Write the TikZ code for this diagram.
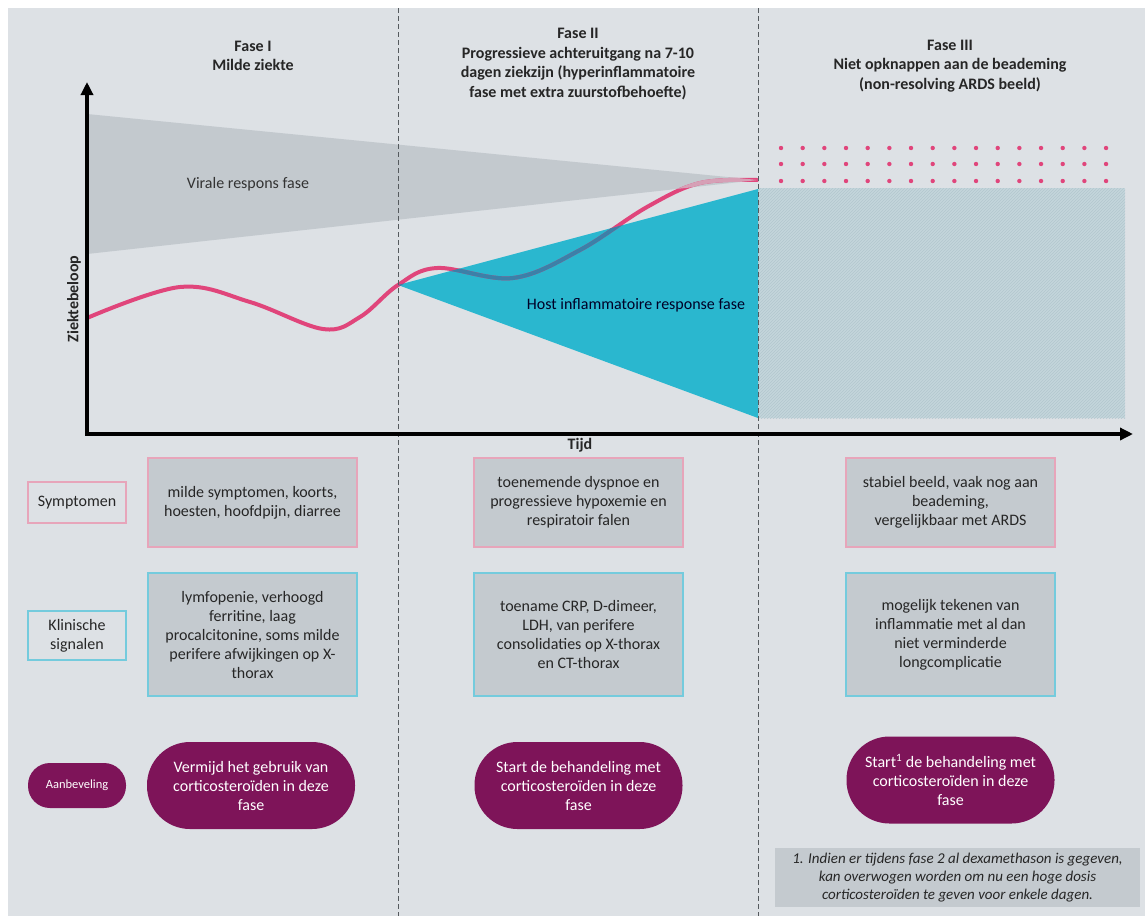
\documentclass[tikz,border=0pt]{standalone}
\usepackage{fontspec}
\setmainfont{Carlito}
\usetikzlibrary{patterns,arrows.meta}
\definecolor{bg}{HTML}{DDE1E5}
\definecolor{wedgegray}{HTML}{C3C9CE}
\definecolor{hostteal}{HTML}{2AB7CF}
\definecolor{curvepink}{HTML}{E0457B}
\definecolor{curveblue}{HTML}{3C80A8}
\definecolor{curvefade}{HTML}{D6A0B6}
\definecolor{purp}{HTML}{7E1459}
\definecolor{boxgray}{HTML}{C4CACF}
\definecolor{pinkbord}{HTML}{E7A5BA}
\definecolor{tealbord}{HTML}{74CBDD}
\definecolor{hatchfill}{HTML}{C4D6DC}
\definecolor{hatchline}{HTML}{B2C7CE}
\definecolor{txt}{HTML}{262626}
\definecolor{dashc}{HTML}{555A5E}
\tikzset{
  hdr/.style={font=\bfseries\fontsize{16}{19.5}\selectfont, align=center, text=txt},
  body/.style={font=\fontsize{16}{19}\selectfont, align=center, text=txt, inner sep=0pt},
  symbox/.style={body, draw=pinkbord, fill=boxgray, line width=1.2pt, minimum width=209pt, minimum height=89pt},
  klinbox/.style={body, draw=tealbord, fill=boxgray, line width=1.2pt, minimum width=209pt, minimum height=123pt},
  pill/.style={body, fill=purp, text=white, minimum width=208pt, minimum height=87pt, rounded corners=43pt},
  symlab/.style={body, draw=pinkbord, line width=1.2pt, minimum width=98pt, minimum height=41pt},
  klinlab/.style={body, draw=tealbord, line width=1.2pt, minimum width=98pt, minimum height=49pt},
  aanlab/.style={body, font=\fontsize{12.5}{14}\selectfont, fill=purp, text=white, minimum width=98pt, minimum height=45pt, rounded corners=22pt},
  dashline/.style={draw=dashc, line width=0.9pt, dash pattern=on 5pt off 3pt},
  axis/.style={line width=3.5pt, -{Triangle[length=13pt,width=12pt]}},
  curve/.style={line width=4pt, line cap=round}
}
\begin{document}
\begin{tikzpicture}[x=1pt,y=-1pt]
\useasboundingbox (0,0) rectangle (1145,916);
\fill[bg] (8,8) rectangle (1145,916);

% Phase III hatched area
\fill[hatchfill] (758,188) rectangle (1125,418);
\fill[pattern=north east lines, pattern color=hatchline] (758,188) rectangle (1125,418);

% dots
\foreach \i in {0,...,15}{
  \foreach \r in {148,164,181}{
    \fill[curvepink] ({781+\i*21.67},\r) circle (2.2pt);
  }
}

% wedges
\fill[wedgegray] (87,114) -- (758,180) -- (87,254) -- cycle;
\fill[hostteal] (398,285) -- (758,189) -- (758,418) -- cycle;

% disease course curve
\draw[curve, curvepink] plot[smooth, tension=0.6] coordinates {(87,318) (180,287) (250,302) (323,329) (360,317) (398,285) (437,268) (513,278) (580,250) (647,207) (700,183) (757,180)};
\begin{scope}
  \clip (398,285) -- (758,189) -- (758,418) -- cycle;
  \draw[curve, curveblue] plot[smooth, tension=0.6] coordinates {(87,318) (180,287) (250,302) (323,329) (360,317) (398,285) (437,268) (513,278) (580,250) (647,207) (700,183) (757,180)};
\end{scope}
\begin{scope}
  \clip (87,114) -- (758,180) -- (87,254) -- cycle;
  \draw[curve, curvefade] plot[smooth, tension=0.6] coordinates {(87,318) (180,287) (250,302) (323,329) (360,317) (398,285) (437,268) (513,278) (580,250) (647,207) (700,183) (757,180)};
\end{scope}

% phase separators
\coordinate (s1t) at (398,8); \coordinate (s1b) at (398,916);
\coordinate (s2t) at (758,8); \coordinate (s2b) at (758,916);
\draw[dashline] (s1t) -- (s1b);
\draw[dashline] (s2t) -- (s2b);

% axes
\coordinate (origin) at (87,434);
\coordinate (ytip) at (87,82);
\coordinate (xtip) at (1133,434);
\draw[axis] ([yshift=-1.75pt]origin) -- (ytip);
\draw[axis] ([xshift=-1.75pt]origin) -- (xtip);
\node[font=\bfseries\fontsize{16}{18}\selectfont, text=txt, rotate=90] (ylab) at (74,299) {Ziektebeloop};
\node[font=\bfseries\fontsize{16}{18}\selectfont, text=txt] (xlab) at (580,445) {Tijd};

% headers
\node[hdr] (h1) at (253,56) {Fase I\\Milde ziekte};
\node[hdr] (h2) at (578,64) {Fase II\\Progressieve achteruitgang na 7-10\\dagen ziekzijn (hyperinflammatoire\\fase met extra zuurstofbehoefte)};
\node[hdr] (h3) at (950,66) {Fase III\\Niet opknappen aan de beademing\\(non-resolving ARDS beeld)};

% region labels
\node[font=\fontsize{16}{19}\selectfont, text=black!80] (viral) at (248,184) {Virale respons fase};
\node[font=\fontsize{16}{19}\selectfont, text=black!85!blue] (host) at (636,305) {Host inflammatoire response fase};

% row labels
\node[symlab] (lsym) at (77,502.5) {Symptomen};
\node[klinlab] (lklin) at (77,635.5) {Klinische\\signalen};
\node[aanlab] (laan) at (77,785.5) {Aanbeveling};

% symptom boxes
\node[symbox] (s1) at (252.5,502.5) {milde symptomen, koorts,\\hoesten, hoofdpijn, diarree};
\node[symbox] (s2) at (578.5,502.5) {toenemende dyspnoe en\\progressieve hypoxemie en\\respiratoir falen};
\node[symbox] (s3) at (950.5,502.5) {stabiel beeld, vaak nog aan\\beademing,\\vergelijkbaar met ARDS};

% clinical boxes
\node[klinbox] (k1) at (252.5,634.5) {lymfopenie, verhoogd\\ferritine, laag\\procalcitonine, soms milde\\perifere afwijkingen op X-\\thorax};
\node[klinbox] (k2) at (578.5,634.5) {toename CRP, D-dimeer,\\LDH, van perifere\\consolidaties op X-thorax\\en CT-thorax};
\node[klinbox] (k3) at (950.5,634.5) {mogelijk tekenen van\\inflammatie met al dan\\niet verminderde\\longcomplicatie};

% recommendations
\node[pill] (a1) at (251,785.5) {Vermijd het gebruik van\\corticosteroïden in deze\\fase};
\node[pill] (a2) at (578.5,785.5) {Start de behandeling met\\corticosteroïden in deze\\fase};
\node[pill] (a3) at (950.5,780) {Start\textsuperscript{1} de behandeling met\\corticosteroïden in deze\\fase};

% footnote
\node[body, fill=boxgray, font=\itshape\fontsize{15}{18}\selectfont, minimum width=365pt, minimum height=59pt] (fn) at (957.5,877.5) {1. Indien er tijdens fase 2 al dexamethason is gegeven,\\kan overwogen worden om nu een hoge dosis\\corticosteroïden te geven voor enkele dagen.};
\end{tikzpicture}
\end{document}
